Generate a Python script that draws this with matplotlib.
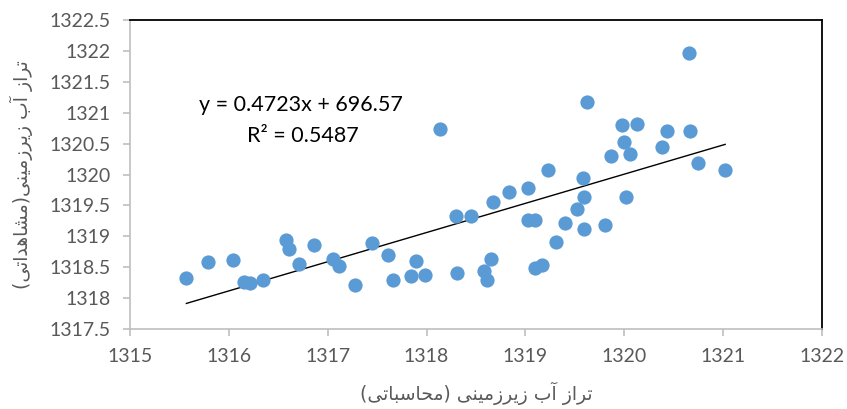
import numpy as np
import matplotlib
matplotlib.use('Agg')
import matplotlib.pyplot as plt

# calculated (x) vs observed (y) groundwater level
x_calc = [1315.57, 1315.79, 1316.04, 1316.15, 1316.21, 1316.35, 1316.58, 1316.61,
          1316.71, 1316.86, 1317.05, 1317.11, 1317.28, 1317.45, 1317.61, 1317.66,
          1317.84, 1317.89, 1317.98, 1318.14, 1318.30, 1318.31, 1318.45, 1318.67,
          1318.83, 1319.03, 1319.23, 1319.03, 1319.10, 1318.65, 1318.58, 1318.61,
          1319.10, 1319.17, 1319.31, 1319.40, 1319.52, 1319.59, 1319.58, 1319.59,
          1319.80, 1319.62, 1319.87, 1319.98, 1320.00, 1320.06, 1320.13, 1320.02,
          1320.38, 1320.43, 1320.65, 1320.66, 1320.75, 1321.02]
y_obs = [1318.32, 1318.59, 1318.62, 1318.26, 1318.24, 1318.29, 1318.94, 1318.79,
         1318.55, 1318.86, 1318.63, 1318.52, 1318.21, 1318.89, 1318.69, 1318.29,
         1318.36, 1318.60, 1318.38, 1320.74, 1319.33, 1318.40, 1319.33, 1319.55,
         1319.71, 1319.78, 1320.07, 1319.27, 1319.27, 1318.63, 1318.44, 1318.29,
         1318.48, 1318.53, 1318.90, 1319.21, 1319.45, 1319.64, 1319.94, 1319.12,
         1319.18, 1321.17, 1320.30, 1320.80, 1320.53, 1320.33, 1320.81, 1319.63,
         1320.44, 1320.70, 1321.97, 1320.70, 1320.18, 1320.07]

slope = 0.4723
intercept = 696.57
r2 = 0.5487

x_label = 'تراز آب زیرزمینی (محاسباتی)'
y_label = 'تراز آب زیرزمینی(مشاهداتی)'

# simple persian shaping (matplotlib has no bidi / joining support)
FORMS = {
    'ا': ('\uFE8D', '\uFE8E', None, None),
    'آ': ('\uFE81', '\uFE82', None, None),
    'د': ('\uFEA9', '\uFEAA', None, None),
    'ر': ('\uFEAD', '\uFEAE', None, None),
    'ز': ('\uFEAF', '\uFEB0', None, None),
    'ب': ('\uFE8F', '\uFE90', '\uFE91', '\uFE92'),
    'ت': ('\uFE95', '\uFE96', '\uFE97', '\uFE98'),
    'ح': ('\uFEA1', '\uFEA2', '\uFEA3', '\uFEA4'),
    'س': ('\uFEB1', '\uFEB2', '\uFEB3', '\uFEB4'),
    'ش': ('\uFEB5', '\uFEB6', '\uFEB7', '\uFEB8'),
    'م': ('\uFEE1', '\uFEE2', '\uFEE3', '\uFEE4'),
    'ن': ('\uFEE5', '\uFEE6', '\uFEE7', '\uFEE8'),
    'ه': ('\uFEE9', '\uFEEA', '\uFEEB', '\uFEEC'),
    'ی': ('\uFBFC', '\uFBFD', '\uFBFE', '\uFBFF'),
}
MIRROR = {'(': ')', ')': '('}


def shape(text):
    out = []
    for i, ch in enumerate(text):
        if ch not in FORMS:
            out.append(ch)
            continue
        iso, fin, ini, med = FORMS[ch]
        prev = text[i - 1] if i > 0 else ''
        nxt = text[i + 1] if i + 1 < len(text) else ''
        joins_prev = prev in FORMS and FORMS[prev][2] is not None
        joins_next = nxt in FORMS and ini is not None
        if joins_prev and joins_next:
            out.append(med)
        elif joins_prev:
            out.append(fin)
        elif joins_next:
            out.append(ini)
        else:
            out.append(iso)
    return ''.join(MIRROR.get(c, c) for c in reversed(out))


plt.rcParams['font.family'] = ['Lato', 'DejaVu Sans']

fig = plt.figure(figsize=(8.47, 4.09), dpi=100)
ax = fig.add_axes([0.1535, 0.1956, 0.817, 0.7554])

ax.scatter(x_calc, y_obs, s=105, color='#5B9BD5', zorder=3, linewidths=0)

xl = np.array([min(x_calc), max(x_calc)])
ax.plot(xl, slope * xl + intercept, color='black', lw=1.0, zorder=2)

ax.text(1316.73, 1321.12, 'y = %.4fx + %.2f' % (slope, intercept),
        ha='center', va='center', fontsize=15.5)
ax.text(1316.75, 1320.63, 'R² = %.4f' % r2, ha='center', va='center', fontsize=15.5)

ax.set_xlim(1315, 1322)
ax.set_ylim(1317.5, 1322.5)
ax.set_xticks(np.arange(1315, 1323, 1))
ax.set_yticks(np.arange(1317.5, 1322.51, 0.5))
ax.set_yticklabels(['%g' % v for v in np.arange(1317.5, 1322.51, 0.5)])

for s in ['left', 'bottom']:
    ax.spines[s].set_color('#BFBFBF')
    ax.spines[s].set_linewidth(1.2)
for s in ['top', 'right']:
    ax.spines[s].set_color('black')
    ax.spines[s].set_linewidth(1.3)
ax.tick_params(axis='both', colors='#BFBFBF', labelcolor='#595959', labelsize=14,
               length=5, width=1.2)
ax.tick_params(axis='x', pad=9)
ax.tick_params(axis='y', pad=9)

ax.set_xlabel(shape(x_label), fontsize=13.5, color='#595959', family='DejaVu Sans', labelpad=12)
ax.set_ylabel(shape(y_label), fontsize=13.5, color='#595959', family='DejaVu Sans', labelpad=12)

fig.savefig('out.png', dpi=100)
